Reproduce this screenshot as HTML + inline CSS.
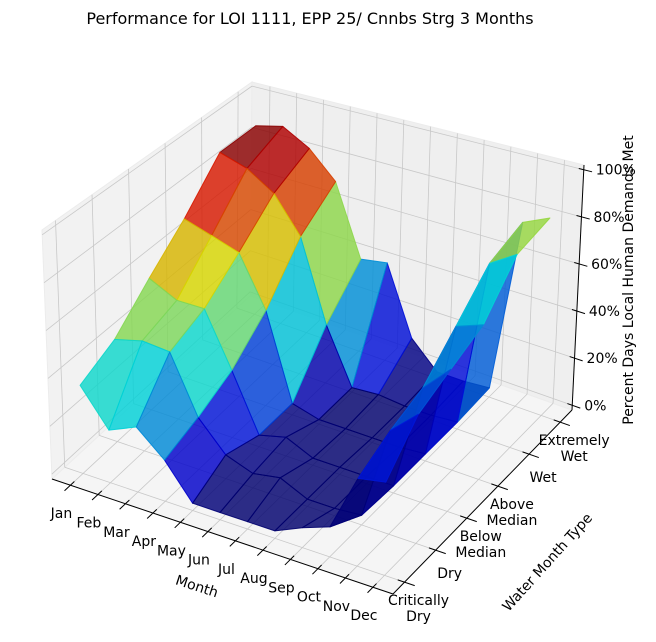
<!DOCTYPE html>
<html><head><meta charset="utf-8"><style>
html,body{margin:0;padding:0;background:#fff;}
svg{display:block;font-family:"DejaVu Sans","Liberation Sans",sans-serif;}
</style></head><body>
<svg id="chart" width="656" height="642" viewBox="0 0 656 642">
<text x="310" y="24" text-anchor="middle" font-size="16" fill="#000">Performance for LOI 1111, EPP 25/ Cnnbs Strg 3 Months</text>
<g id="panes"></g><g id="grid"></g><g id="axes"></g><g id="surface"></g><g id="labels"></g>
</svg>
<script>
const months = ["Jan","Feb","Mar","Apr","May","Jun","Jul","Aug","Sep","Oct","Nov","Dec"];
const waterTypes = [["Critically","Dry"],["Dry"],["Below","Median"],["Above","Median"],["Wet"],["Extremely","Wet"]];
const zTicks = [0,20,40,60,80,100];
const rowCriticallyDry = [35,20,25,15,1,1,1,1,6,10,33,35];
const rowDry           = [42,45,44,20,8,4,6,1,1,2,40,50];
const rowBelowMedian   = [56,50,50,27,3,6,1,1,1,1,45,56];
const rowAboveMedian   = [70,66,62,40,3,0,0,0,0,1,58,62];
const rowWet           = [88,84,76,60,24,0,1,0,0,1,72,79];
const rowExtremelyWet  = [88,91,84,72,40,42,12,1,1,2,77,82];
const values = [rowCriticallyDry,rowDry,rowBelowMedian,rowAboveMedian,rowWet,rowExtremelyWet];
const colorCriticallyDry = [35,20,25,15,1,0,0,0,0,0,0,20];
const colorDry           = [42,45,44,20,4,0,1,0,0,0,5,30];
const colorBelowMedian   = [56,50,50,27,2,3,0,0,0,0,10,35];
const colorAboveMedian   = [70,66,62,40,3,0,0,0,0,0,20,40];
const colorWet           = [88,84,76,60,24,0,0,0,0,0,30,45];
const colorExtremelyWet  = [88,91,84,72,40,42,10,0,0,0,55,70];
const colorValues = [colorCriticallyDry,colorDry,colorBelowMedian,colorAboveMedian,colorWet,colorExtremelyWet];

const NS="http://www.w3.org/2000/svg";
const C={F00:[52,479],F10:[393,594],F11:[572,410],F01:[250,296],T00:[42,230],T10:[397,330],T11:[584,165],T01:[252,82]};
const mLo=0.33,mHi=12.73,wLo=-0.37,wHi=5.38,zLo=-2,zHi=102;
function lerp(a,b,t){return [a[0]+(b[0]-a[0])*t,a[1]+(b[1]-a[1])*t];}
function P(u,v,w){
  const f=lerp(lerp(C.F00,C.F10,u),lerp(C.F01,C.F11,u),v);
  const t=lerp(lerp(C.T00,C.T10,u),lerp(C.T01,C.T11,u),v);
  return lerp(f,t,w);
}
function xs(m){return (m-mLo)/(mHi-mLo);}
function ys(w){return (w-wLo)/(wHi-wLo);}
function zs(z){return (z-zLo)/(zHi-zLo);}
function proj(m,w,z){return P(xs(m),ys(w),zs(z));}
function el(tag,attrs,parent){const e=document.createElementNS(NS,tag);for(const k in attrs)e.setAttribute(k,attrs[k]);parent.appendChild(e);return e;}
function pts(a){return a.map(p=>p[0].toFixed(1)+","+p[1].toFixed(1)).join(" ");}

const panes=document.getElementById('panes');
let pn=el('polygon',{points:pts([C.F00,C.F10,C.F11,C.F01]),fill:'#f5f5f5',stroke:'#f0f0f0'},panes);


pn=el('polygon',{points:pts([C.F00,C.F01,C.T01,C.T00]),fill:'#f2f2f2',stroke:'#ececec'},panes);


pn=el('polygon',{points:pts([C.F01,C.F11,C.T11,C.T01]),fill:'#efefef',stroke:'#ececec'},panes);



const grid=document.getElementById('grid');
function gl(a,b,name){const l=el('line',{x1:a[0],y1:a[1],x2:b[0],y2:b[1],stroke:'#c8c8c8','stroke-width':0.8},grid);

}
months.forEach((m,i)=>{const u=xs(i+1);
 gl(P(u,0,0),P(u,1,0),'floor-gridline-'+m.toLowerCase());
 gl(P(u,1,0),P(u,1,1),'back-gridline-'+m.toLowerCase());});
waterTypes.forEach((w,j)=>{const v=ys(j);
 gl(P(0,v,0),P(1,v,0),'floor-gridline-water-'+j);
 gl(P(0,v,0),P(0,v,1),'left-gridline-water-'+j);});
zTicks.forEach(z=>{const w=zs(z);
 gl(P(0,0,w),P(0,1,w),'left-gridline-z-'+z);
 gl(P(0,1,w),P(1,1,w),'back-gridline-z-'+z);});

const axes=document.getElementById('axes');
function al(a,b,name){const l=el('line',{x1:a[0],y1:a[1],x2:b[0],y2:b[1],stroke:'#000','stroke-width':1},axes);

}
al(C.F00,C.F10,'month-axis-line');
al(C.F10,C.F11,'water-axis-line');
al(C.F11,C.T11,'z-axis-line');
const labels=document.getElementById('labels');
months.forEach((m,i)=>{const p=P(xs(i+1),0,0),q=P(xs(i+1),-0.03,0),r=P(xs(i+1),0.02,0);
 al(r,q,'month-tick-'+m.toLowerCase());
 const t=el('text',{x:p[0]-9,y:p[1]+33,'text-anchor':'middle','font-size':14},labels);
 t.textContent=m;
 
 });
waterTypes.forEach((w,j)=>{const p=P(1,ys(j),0),q=P(1.03,ys(j),0),r=P(0.98,ys(j),0);
 al(r,q,'water-tick-'+j);
 const t=el('text',{'text-anchor':'middle','font-size':14},labels);
 
 
 const y0=p[1]+(w.length==2?23:28);
 w.forEach((s,k)=>{const ts=el('tspan',{x:p[0]+14,y:y0+k*16},t);ts.textContent=s;});});
zTicks.forEach(z=>{const p=P(1,1,zs(z)),q=P(1.025,1,zs(z)),r=P(0.985,1,zs(z));
 al(r,q,'z-tick-'+z);
 const t=el('text',{x:p[0]+12,y:p[1]+5,'font-size':14},labels);
 t.textContent=z+'%';
 
 });
let tt=el('text',{x:197,y:591,'text-anchor':'middle','font-size':14,transform:'rotate(18 197 586)'},labels);
tt.textContent='Month';


tt=el('text',{x:547,y:567,'text-anchor':'middle','font-size':14,transform:'rotate(-48 547 562)'},labels);
tt.textContent='Water Month Type';


tt=el('text',{x:633,y:290,'text-anchor':'middle','font-size':14,transform:'rotate(-90 628 285)'},labels);
tt.textContent='Percent Days Local Human Demands Met';



function jet(t){const c=x=>Math.round(215*Math.max(0,Math.min(1,x)));
 return 'rgb('+c(1.5-Math.abs(4*t-3))+','+c(1.5-Math.abs(4*t-2))+','+c(1.5-Math.abs(4*t-1))+')';}
let vmin=Infinity,vmax=-Infinity;colorValues.forEach(r=>r.forEach(v=>{vmin=Math.min(vmin,v);vmax=Math.max(vmax,v);}));
const faces=[];
for(let j=0;j<5;j++)for(let i=0;i<11;i++){
 const corners=[[i,j],[i+1,j],[i+1,j+1],[i,j+1]];
 const avg=corners.reduce((s,c)=>s+values[c[1]][c[0]],0)/4;
 const cavg=corners.reduce((s,c)=>s+colorValues[c[1]][c[0]],0)/4;
 const u=(xs(i+1.5)),v=ys(j+0.5),w=zs(avg);
 const depth=0.433*u*4-0.75*v*4+0.5*w*3;
 faces.push({i,j,corners,avg,cavg,depth});}
faces.sort((a,b)=>a.depth-b.depth);
const surf=document.getElementById('surface');
faces.forEach(f=>{const poly=f.corners.map(c=>proj(c[0]+1,c[1],values[c[1]][c[0]]));
 const col=jet((f.cavg-vmin)/(vmax-vmin));
 const p=el('polygon',{points:pts(poly),fill:col,'fill-opacity':0.82,stroke:col,'stroke-opacity':0.9,'stroke-width':1,'stroke-linejoin':'round'},surf);
 
 });
</script>
</body></html>
